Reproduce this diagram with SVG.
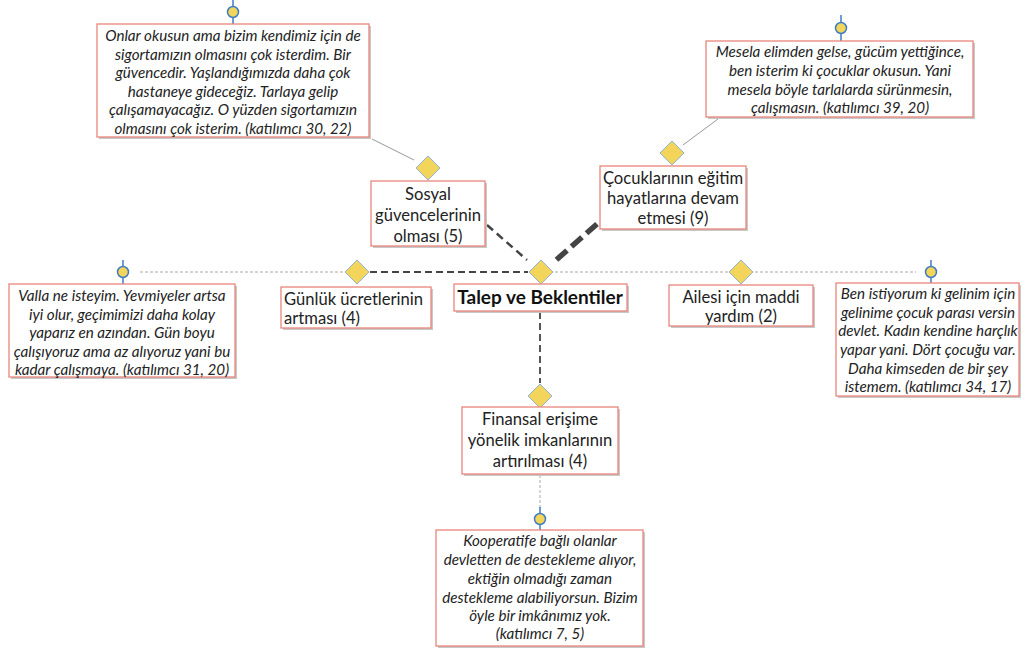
<svg xmlns="http://www.w3.org/2000/svg" width="1029" height="649" viewBox="0 0 1029 649">
<style>
.box{fill:#fff;stroke:#e8857b;stroke-width:1.3}
.sh{fill:#c8c8c8}
.q{font-family:Lato,"Open Sans",sans-serif;font-size:15.2px;font-style:italic;fill:#222;text-anchor:middle}
.t{font-family:Lato,"Open Sans",sans-serif;font-size:16.6px;fill:#222;text-anchor:middle}
.ts{font-family:Lato,"Open Sans",sans-serif;font-size:16.6px;fill:#222;text-anchor:start}
.dia{fill:#f2d55a;stroke:#8fb3d4;stroke-width:1}
.cir{fill:#f2d55a;stroke:#3d7cc4;stroke-width:1.5}
.stem{stroke:#3d7cc4;stroke-width:1.5}
.thin{stroke:#999;stroke-width:1;fill:none}
.td{stroke:#aaa;stroke-width:1;stroke-dasharray:3 2;fill:none}
.md{stroke:#444;stroke-width:2;stroke-dasharray:7 4;fill:none}
</style>
<defs>
<path id="d" d="M0,-12 L12,0 L0,12 L-12,0 Z"/>
</defs>
<rect width="1029" height="649" fill="#fff"/>
<g id="connectors">
<line class="thin" x1="372" y1="139" x2="414" y2="160"/>
<line class="thin" x1="718" y1="119" x2="683" y2="145"/>
<line x1="487" y1="225" x2="527" y2="260" stroke="#444" stroke-width="2.5" stroke-dasharray="8 5"/>
<line x1="597" y1="224" x2="555" y2="261" stroke="#444" stroke-width="5.5" stroke-dasharray="14 6"/>
<line class="md" x1="370" y1="272" x2="528" y2="272"/>
<line class="td" x1="555" y1="272" x2="728" y2="272"/>
<line class="td" x1="140" y1="272" x2="344" y2="272"/>
<line class="td" x1="755" y1="272" x2="916" y2="272"/>
<line x1="540" y1="312" x2="540" y2="383" stroke="#444" stroke-width="1.8" stroke-dasharray="7 4"/>
<line class="td" x1="540" y1="475" x2="540" y2="510"/>
</g>
<g id="center">
<use href="#d" class="dia" x="541" y="272"/>
<rect class="sh" x="456" y="286" width="173" height="27"/>
<rect class="box" x="454" y="284" width="173" height="27"/>
<text x="540" y="304" font-family="Lato,'Open Sans',sans-serif" font-size="19" font-weight="bold" text-anchor="middle" fill="#111">Talep ve Beklentiler</text>
</g>
<g id="sosyal">
<use href="#d" class="dia" x="428" y="168"/>
<rect class="sh" x="373" y="183" width="114" height="65"/>
<rect class="box" x="371" y="181" width="114" height="65"/>
<text class="t" x="428" y="200">Sosyal</text>
<text class="t" x="428" y="221">güvencelerinin</text>
<text class="t" x="428" y="242">olması (5)</text>
</g>
<g id="cocuk">
<use href="#d" class="dia" x="672" y="153"/>
<rect class="sh" x="602" y="168" width="146" height="63"/>
<rect class="box" x="600" y="166" width="146" height="63"/>
<text class="t" x="673" y="184">Çocuklarının eğitim</text>
<text class="t" x="673" y="204">hayatlarına devam</text>
<text class="t" x="673" y="224">etmesi (9)</text>
</g>
<g id="gunluk">
<use href="#d" class="dia" x="357" y="272"/>
<rect class="sh" x="283" y="289" width="150" height="41"/>
<rect class="box" x="281" y="287" width="150" height="41"/>
<text class="ts" x="284" y="305">Günlük ücretlerinin</text>
<text class="ts" x="284" y="324">artması (4)</text>
</g>
<g id="ailesi">
<use href="#d" class="dia" x="741" y="272"/>
<rect class="sh" x="671" y="287" width="144" height="41"/>
<rect class="box" x="669" y="285" width="144" height="41"/>
<text class="t" x="741" y="303">Ailesi için maddi</text>
<text class="t" x="741" y="322">yardım (2)</text>
</g>
<g id="finansal">
<use href="#d" class="dia" x="540" y="396"/>
<rect class="sh" x="464" y="409" width="156" height="67"/>
<rect class="box" x="462" y="407" width="156" height="67"/>
<text class="t" x="540" y="425">Finansal erişime</text>
<text class="t" x="540" y="446">yönelik imkanlarının</text>
<text class="t" x="540" y="467">artırılması (4)</text>
</g>
<g id="quote-top-left">
<line class="stem" x1="233" y1="0" x2="233" y2="24"/>
<circle class="cir" cx="233" cy="12" r="5.5"/>
<rect class="sh" x="99" y="26" width="272" height="113"/>
<rect class="box" x="97" y="24" width="272" height="113"/>
<text class="q" x="233" y="41">Onlar okusun ama bizim kendimiz için de</text>
<text class="q" x="233" y="60">sigortamızın olmasını çok isterdim. Bir</text>
<text class="q" x="233" y="78">güvencedir. Yaşlandığımızda daha çok</text>
<text class="q" x="233" y="97">hastaneye gideceğiz. Tarlaya gelip</text>
<text class="q" x="233" y="115">çalışamayacağız. O yüzden sigortamızın</text>
<text class="q" x="233" y="134">olmasını çok isterim. (katılımcı 30, 22)</text>
</g>
<g id="quote-top-right">
<line class="stem" x1="841" y1="15" x2="841" y2="41"/>
<circle class="cir" cx="841" cy="28" r="5.5"/>
<rect class="sh" x="708" y="43" width="267" height="76"/>
<rect class="box" x="706" y="41" width="267" height="76"/>
<text class="q" x="840" y="57">Mesela elimden gelse, gücüm yettiğince,</text>
<text class="q" x="840" y="76">ben isterim ki çocuklar okusun. Yani</text>
<text class="q" x="840" y="95">mesela böyle tarlalarda sürünmesin,</text>
<text class="q" x="840" y="113">çalışmasın. (katılımcı 39, 20)</text>
</g>
<g id="quote-left">
<line class="stem" x1="123" y1="260" x2="123" y2="284"/>
<circle class="cir" cx="123" cy="272" r="5.5"/>
<rect class="sh" x="11" y="286" width="226" height="93"/>
<rect class="box" x="9" y="284" width="226" height="93"/>
<text class="q" x="122" y="301">Valla ne isteyim. Yevmiyeler artsa</text>
<text class="q" x="122" y="320">iyi olur, geçimimizi daha kolay</text>
<text class="q" x="122" y="338">yaparız en azından. Gün boyu</text>
<text class="q" x="122" y="357">çalışıyoruz ama az alıyoruz yani bu</text>
<text class="q" x="122" y="375">kadar çalışmaya. (katılımcı 31, 20)</text>
</g>
<g id="quote-right">
<line class="stem" x1="931" y1="260" x2="931" y2="283"/>
<circle class="cir" cx="931" cy="272" r="5.5"/>
<rect class="sh" x="838" y="285" width="183" height="113"/>
<rect class="box" x="836" y="283" width="183" height="113"/>
<text class="q" x="928" y="299">Ben istiyorum ki gelinim için</text>
<text class="q" x="928" y="318">gelinime çocuk parası versin</text>
<text class="q" x="928" y="336">devlet. Kadın kendine harçlık</text>
<text class="q" x="928" y="355">yapar yani. Dört çocuğu var.</text>
<text class="q" x="928" y="374">Daha kimseden de bir şey</text>
<text class="q" x="928" y="392">istemem. (katılımcı 34, 17)</text>
</g>
<g id="quote-bottom">
<line class="stem" x1="540" y1="507" x2="540" y2="530"/>
<circle class="cir" cx="540" cy="519" r="5.5"/>
<rect class="sh" x="438" y="532" width="207" height="116"/>
<rect class="box" x="436" y="530" width="207" height="116"/>
<text class="q" x="540" y="546">Kooperatife bağlı olanlar</text>
<text class="q" x="540" y="565">devletten de destekleme alıyor,</text>
<text class="q" x="540" y="584">ektiğin olmadığı zaman</text>
<text class="q" x="540" y="603">destekleme alabiliyorsun. Bizim</text>
<text class="q" x="540" y="621">öyle bir imkânımız yok.</text>
<text class="q" x="540" y="639">(katılımcı 7, 5)</text>
</g>
</svg>
